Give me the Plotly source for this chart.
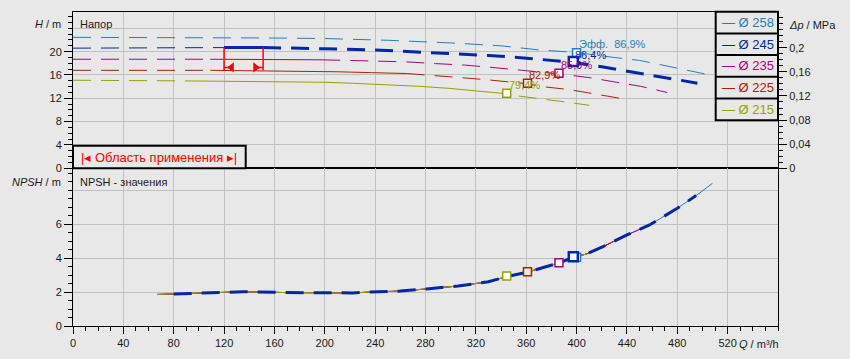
import numpy as np
import plotly.graph_objects as go

# ---------------- data ----------------
names = ["Ø 258", "Ø 245", "Ø 235", "Ø 225", "Ø 215"]
colors = ["#1f7fbd", "#0028a0", "#a8007f", "#b02000", "#94a300"]

q258 = [0, 50, 100, 150, 200, 250, 300, 340, 370, 400, 430, 450, 466, 488, 508]
h258 = [22.45, 22.45, 22.4, 22.35, 22.25, 21.95, 21.5, 21.0, 20.3, 19.85, 19.0, 18.5, 17.8, 16.8, 15.9]

q245 = [0, 60, 120, 151, 175, 200, 240, 260, 285, 307, 330, 353, 377, 397, 420, 442, 467, 488, 496]
h245 = [20.6, 20.62, 20.7, 20.7, 20.65, 20.5, 20.3, 20.1, 19.9, 19.6, 19.35, 19.0, 18.55, 18.2, 17.4, 16.6, 15.7, 14.95, 14.6]

q235 = [0, 60, 109, 150, 198, 217, 241, 265, 288, 311, 330, 357, 386, 410, 429, 451, 472]
h235 = [18.7, 18.7, 18.7, 18.7, 18.6, 18.5, 18.4, 18.25, 17.95, 17.7, 17.35, 16.8, 16.2, 15.55, 14.9, 14.05, 13.0]

q225 = [0, 60, 109, 150, 180, 210, 237, 265, 283, 305, 328, 351, 361, 373, 394, 417, 440]
h225 = [16.8, 16.8, 16.8, 16.75, 16.6, 16.55, 16.4, 16.25, 15.9, 15.6, 15.2, 14.7, 14.5, 14.0, 13.5, 12.65, 11.8]

q215 = [0, 50, 93, 130, 165, 200, 222, 242, 256, 275, 298, 324, 332, 344, 350, 370, 392, 410]
h215 = [15.1, 15.1, 14.98, 14.93, 14.88, 14.75, 14.58, 14.4, 14.24, 14.06, 13.72, 13.2, 13.03, 12.8, 12.5, 12.0, 11.35, 10.8]

curves_q = [q258, q245, q235, q225, q215]
curves_h = [h258, h245, h235, h225, h215]
solid_ranges = [None, (120, 151), (109, 198), (109, 265), (93, 332)]

npsh_q = [67, 80, 100, 135, 170, 200, 222, 236, 260, 283, 306, 330, 345, 361, 386, 397, 408, 421, 440, 458, 480, 495, 508]
npsh_v = [1.86, 1.89, 1.95, 2.02, 1.97, 1.94, 1.95, 2.0, 2.06, 2.2, 2.36, 2.61, 2.92, 3.18, 3.72, 4.04, 4.25, 4.68, 5.37, 5.96, 6.94, 7.69, 8.42]
npsh_qmin = [67, 80, 67, 67, 67]
npsh_qmax = [508, 496, 472, 440, 410]

eff_q = [400, 397.4, 386, 361, 344.5]
eff_h = [19.8, 18.3, 16.3, 14.58, 12.85]
eff_npsh = [4.05, 4.08, 3.73, 3.2, 2.95]
eff_text = ["Эфф.\u00a0\u00a086,9%", "86,4%", "85,9%", "82,9%", "79,4%"]

app_q = [120, 151]
app_h = [16.8, 20.7]
app_arrow_h = 17.3

x_ticks = list(range(0, 521, 40))
h_ticks = [0, 4, 8, 12, 16, 20, 24]
h_ticktext = ["0", "4", "8", "12", "16", "20", ""]
npsh_ticks = [0, 2, 4, 6, 8]
npsh_ticktext = ["0", "2", "4", "6", ""]
dp_ticks = [0, 0.04, 0.08, 0.12, 0.16, 0.2]
dp_ticktext = ["0", "0,04", "0,08", "0,12", "0,16", "0,2"]

# ---------------- style ----------------
BG = "#e8e8e8"
GRID = "#c0c0c0"
FONT = "Liberation Sans"
TXT = "#1a1a1a"
W, H = 850, 359
L, R, T, B = 73, 778, 12, 326
MID = 168.3
split = (B - MID) / (B - T)


def px(x):
    return (x - L) / (R - L)


def py(y):
    return (B - y) / (B - T)


fig = go.Figure()
DASH = "18px,10px"

# H-Q curves
for i, (qs, hs) in enumerate(zip(curves_q, curves_h)):
    qa = np.array(qs, dtype=float)
    ha = np.array(hs, dtype=float)
    c = colors[i]
    thick = (i == 1)
    rng = solid_ranges[i]
    if rng is None:
        parts = [(qa >= 0, DASH, 1)]
    else:
        s0, s1 = rng
        parts = [
            (qa <= s0, DASH, 1),
            ((qa >= s0) & (qa <= s1), "solid", 3 if thick else 1),
            (qa >= s1, DASH, 3 if thick else 1),
        ]
    for m, dash, w in parts:
        fig.add_trace(go.Scatter(x=qa[m], y=ha[m], mode="lines", xaxis="x", yaxis="y",
                                 line=dict(color=c, width=w, dash=dash), hoverinfo="skip",
                                 showlegend=False))

# application range bracket
fig.add_trace(go.Scatter(x=[app_q[0], app_q[0], None, app_q[1], app_q[1]],
                         y=[app_h[0], app_h[1], None, app_h[0], app_h[1]],
                         mode="lines", xaxis="x", yaxis="y",
                         line=dict(color="#ff0000", width=1.5), showlegend=False, hoverinfo="skip"))
fig.add_trace(go.Scatter(x=[app_q[0] + 6, app_q[1] - 6], y=[app_arrow_h, app_arrow_h],
                         mode="markers", xaxis="x", yaxis="y",
                         marker=dict(symbol=["triangle-left", "triangle-right"], size=9, color="#ff0000",
                                     line=dict(width=0)),
                         showlegend=False, hoverinfo="skip"))
fig.add_trace(go.Scatter(x=[app_q[0], app_q[0] + 4, None, app_q[1] - 4, app_q[1]],
                         y=[app_arrow_h] * 2 + [None] + [app_arrow_h] * 2,
                         mode="lines", xaxis="x", yaxis="y",
                         line=dict(color="#ff0000", width=1.5), showlegend=False, hoverinfo="skip"))

# NPSH curves (thin, colored) then thick dashed 245
nq = np.array(npsh_q, dtype=float)
nv = np.array(npsh_v, dtype=float)
for i in [0, 2, 3, 4]:
    m = (nq >= npsh_qmin[i]) & (nq <= npsh_qmax[i])
    fig.add_trace(go.Scatter(x=nq[m], y=nv[m], mode="lines", xaxis="x2", yaxis="y2",
                             line=dict(color=colors[i], width=1), showlegend=False, hoverinfo="skip"))
m = (nq >= npsh_qmin[1]) & (nq <= npsh_qmax[1])
fig.add_trace(go.Scatter(x=nq[m], y=nv[m], mode="lines", xaxis="x2", yaxis="y2",
                         line=dict(color=colors[1], width=3, dash=DASH), showlegend=False, hoverinfo="skip"))

# efficiency markers
fills = ["#ffffff", "#ffffff", "#ffffff", BG, "#ffffff"]
for i in range(5):
    size = 9 if i == 1 else 8
    lw = 2.5 if i == 1 else 1.5
    for xa, ya, yv in (("x", "y", eff_h[i]), ("x2", "y2", eff_npsh[i])):
        fig.add_trace(go.Scatter(x=[eff_q[i]], y=[yv], mode="markers", xaxis=xa, yaxis=ya,
                                 marker=dict(symbol="square", size=size, color=fills[i],
                                             line=dict(color=colors[i], width=lw)),
                                 showlegend=False, hoverinfo="skip"))

annotations = []
eff_yshift = [9, 7, 8, 8, 8]
for i in range(5):
    annotations.append(dict(x=eff_q[i], y=eff_h[i], xref="x", yref="y", text=eff_text[i],
                            showarrow=False, xanchor="left", yanchor="middle", xshift=0,
                            yshift=eff_yshift[i],
                            font=dict(family=FONT, size=11, color=colors[i])))


# axis titles and panel labels
def ann(text, x, y, xanchor, size=11, color=TXT):
    annotations.append(dict(x=px(x), y=py(y), xref="paper", yref="paper", text=text,
                            showarrow=False, xanchor=xanchor, yanchor="middle",
                            font=dict(family=FONT, size=size, color=color)))


ann("<i>H</i> / m", 63, 24, "right")
ann("<i>NPSH</i> / m", 63, 181.7, "right")
ann("<i>Δp</i> / MPa", 787, 24.5, "left")
ann("<i>Q</i> / m³/h", 781, 344, "right")
ann("Напор", 78, 24, "left")
ann("NPSH - значения", 78, 181.7, "left")
ann("|◂ Область применения ▸|", 158.5, 157, "center", size=13, color="#ff0000")

# legend entries
row_h = 21.7
leg_top = 11.7
for k in range(5):
    ann("— " + names[k], 720, leg_top + row_h * (k + 0.5), "left", size=13, color=colors[k])

shapes = [
    dict(type="rect", xref="paper", yref="paper", x0=px(715.7), x1=px(R), y0=py(leg_top + 5 * row_h),
         y1=py(leg_top), fillcolor=BG, line=dict(color="black", width=2), layer="above"),
    dict(type="rect", xref="paper", yref="paper", x0=px(L), x1=px(245.7), y0=py(MID), y1=py(145.7),
         fillcolor=BG, line=dict(color="black", width=2), layer="above"),
]
for k in range(1, 5):
    shapes.append(dict(type="line", xref="paper", yref="paper", x0=px(715.7), x1=px(R),
                       y0=py(leg_top + row_h * k), y1=py(leg_top + row_h * k),
                       line=dict(color="black", width=2), layer="above"))

tickfont = dict(family=FONT, size=11, color=TXT)
common = dict(showline=True, linecolor="black", linewidth=1, mirror=True, zeroline=False,
              gridcolor=GRID, gridwidth=1, automargin=False)

fig.update_layout(
    width=W, height=H, paper_bgcolor=BG, plot_bgcolor=BG,
    margin=dict(l=L, r=W - R, t=T, b=H - B, autoexpand=False),
    showlegend=False,
    xaxis=dict(domain=[0, 1], anchor="y", range=[0, 560], tickvals=x_ticks, showticklabels=False,
               ticks="", showgrid=True, **common),
    yaxis=dict(domain=[split, 1], anchor="x", range=[0, 26.8], tickvals=h_ticks, ticktext=h_ticktext,
               ticks="outside", ticklen=8, tickcolor="black", tickfont=tickfont, showgrid=True,
               minor=dict(tickvals=list(range(0, 27)), ticklen=4, tickcolor="black", showgrid=False),
               **common),
    xaxis2=dict(domain=[0, 1], anchor="y2", range=[0, 560], tickvals=x_ticks, ticks="outside",
                ticklen=7, tickcolor="black", tickfont=tickfont, showgrid=True,
                minor=dict(tickvals=list(range(0, 561, 10)), ticklen=4, tickcolor="black", showgrid=False),
                **common),
    yaxis2=dict(domain=[0, split], anchor="x2", range=[0, 9.3], tickvals=npsh_ticks, ticktext=npsh_ticktext,
                ticks="outside", ticklen=8, tickcolor="black", tickfont=tickfont, showgrid=True,
                minor=dict(tickvals=[v * 0.5 for v in range(0, 19)], ticklen=4, tickcolor="black",
                           showgrid=False),
                **common),
    yaxis3=dict(overlaying="y", side="right", anchor="x", range=[0, 0.2593], tickvals=dp_ticks,
                ticktext=dp_ticktext, ticks="outside", ticklen=8, tickcolor="black", tickfont=tickfont,
                showgrid=False, showline=True, linecolor="black", linewidth=1, zeroline=False,
                automargin=False,
                minor=dict(tickvals=[v * 0.01 for v in range(0, 26)], ticklen=4, tickcolor="black",
                           showgrid=False)),
    annotations=annotations,
    shapes=shapes,
)
# dummy trace to activate the right axis
fig.add_trace(go.Scatter(x=[None], y=[None], xaxis="x", yaxis="y3", showlegend=False, hoverinfo="skip"))

fig.write_html("out.html", config={"displayModeBar": False, "staticPlot": True},
               post_script="document.body.style.margin='0';document.body.style.padding='0';")
